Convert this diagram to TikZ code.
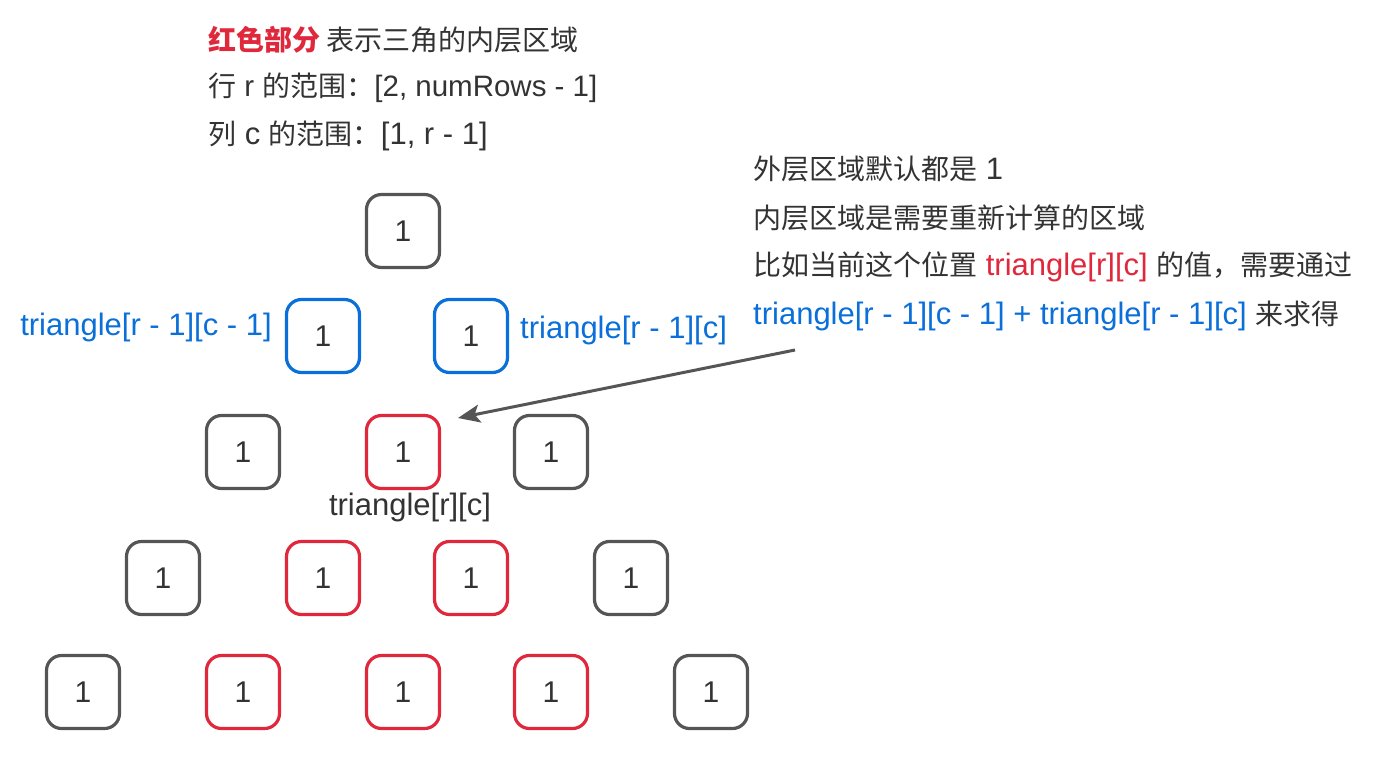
\documentclass[tikz,border=0pt]{standalone}
\usepackage{fontspec}
\setmainfont{Liberation Sans}
\newfontfamily\cjk{Noto Sans CJK SC}
\usetikzlibrary{arrows.meta}
\definecolor{rd}{HTML}{E0283C}
\definecolor{bl}{HTML}{0A6FD8}
\definecolor{gr}{HTML}{555555}
\definecolor{tx}{HTML}{333333}
\newcommand{\zh}[1]{{\cjk\fontsize{28}{30}\selectfont #1}}
\begin{document}
\begin{tikzpicture}[x=1pt,y=-1pt,
  cell/.style={draw=gr, line width=3.2pt, rounded corners=15pt, minimum width=73pt, minimum height=73pt, inner sep=0pt, font=\fontsize{30}{32}\selectfont, text=tx},
  redcell/.style={cell, draw=rd},
  bluecell/.style={cell, draw=bl},
  lbl/.style={inner sep=0pt, font=\fontsize{31}{36}\selectfont, text=tx},
  arr/.style={draw=gr, line width=3pt, -{Stealth[length=22pt,width=18pt,inset=5pt]}}]
\useasboundingbox (0,0) rectangle (1374,758);
% cells
\node[cell] (a11) at (403,231) {1};
\node[bluecell] (a21) at (323,336) {1};
\node[bluecell] (a22) at (471,336) {1};
\node[cell] (a31) at (243,452) {1};
\node[redcell] (a32) at (403,452) {1};
\node[cell] (a33) at (551,452) {1};
\node[cell] (a41) at (163,578) {1};
\node[redcell] (a42) at (323,578) {1};
\node[redcell] (a43) at (471,578) {1};
\node[cell] (a44) at (631,578) {1};
\node[cell] (a51) at (83,692) {1};
\node[redcell] (a52) at (243,692) {1};
\node[redcell] (a53) at (403,692) {1};
\node[redcell] (a54) at (551,692) {1};
\node[cell] (a55) at (711,692) {1};
% cell labels
\node[lbl, text=bl, anchor=east] (l1) at (272,327) {triangle[r - 1][c - 1]};
\node[lbl, text=bl, anchor=west] (l2) at (520,330) {triangle[r - 1][c]};
\node[lbl] (l3) at (410,507) {triangle[r][c]};
% top-left text
\node[lbl, anchor=west] (t1) at (208,40) {\zh{\textcolor{rd}{\bfseries 红色部分} 表示三角的内层区域}};
\node[lbl, anchor=west, font=\fontsize{29.5}{36}\selectfont] (t2) at (208,88) {\zh{行} r \zh{的范围：}[2, numRows - 1]};
\node[lbl, anchor=west] (t3) at (208,136) {\zh{列} c \zh{的范围：}[1, r - 1]};
% right text
\node[lbl, anchor=west] (r1) at (753,169) {\zh{外层区域默认都是} 1};
\node[lbl, anchor=west] (r2) at (753,218) {\zh{内层区域是需要重新计算的区域}};
\node[lbl, anchor=west] (r3) at (753,267) {\zh{比如当前这个位置} \textcolor{rd}{triangle[r][c]} \zh{的值，需要通过}};
\node[lbl, anchor=west] (r4) at (753,316) {\textcolor{bl}{triangle[r - 1][c - 1] + triangle[r - 1][c]} \zh{来求得}};
% arrow
\coordinate (as) at (795,350);
\coordinate (ae) at (458,418);
\draw[arr] (as) -- (ae);
\end{tikzpicture}
\end{document}
